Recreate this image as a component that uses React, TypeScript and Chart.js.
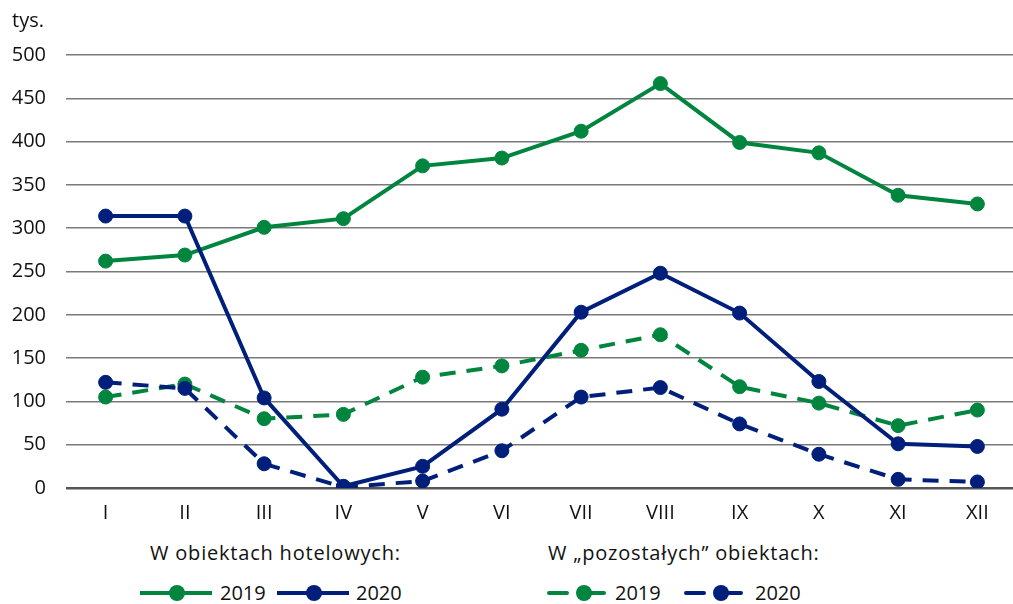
import React, { useEffect, useRef } from "react";
import { Chart, registerables } from "chart.js";

Chart.register(...registerables);

const months = ["I", "II", "III", "IV", "V", "VI", "VII", "VIII", "IX", "X", "XI", "XII"];
const hotel2019 = [262, 269, 301, 311, 372, 381, 412, 467, 399, 387, 338, 328];
const hotel2020 = [314, 314, 104, 2, 25, 91, 203, 248, 202, 123, 51, 48];
const other2019 = [105, 120, 80, 85, 128, 141, 159, 177, 117, 98, 72, 90];
const other2020 = [122, 115, 28, 1, 8, 43, 105, 116, 74, 39, 10, 7];
const yTicks = [0, 50, 100, 150, 200, 250, 300, 350, 400, 450, 500];

const GREEN = "#00853f";
const NAVY = "#001f7a";
const FONT = "'Open Sans', 'Noto Sans', sans-serif";
const TEXT = "#111111";

function Marker({ color, dashed }: { color: string; dashed: boolean }) {
  if (dashed) {
    return (
      <svg width="62" height="20" style={{ display: "block" }}>
        <line x1="2" y1="10" x2="20" y2="10" stroke={color} strokeWidth="4" strokeLinecap="round" />
        <line x1="37" y1="10" x2="57" y2="10" stroke={color} strokeWidth="4" strokeLinecap="round" />
        <circle cx="37" cy="10" r="8" fill={color} />
      </svg>
    );
  }
  return (
    <svg width="72" height="20" style={{ display: "block" }}>
      <line x1="0" y1="10" x2="72" y2="10" stroke={color} strokeWidth="4" />
      <circle cx="37" cy="10" r="8" fill={color} />
    </svg>
  );
}

export default function App() {
  const canvasRef = useRef<HTMLCanvasElement | null>(null);

  useEffect(() => {
    const canvas = canvasRef.current;
    if (!canvas) return;
    const mk = (data: number[], color: string, dashed: boolean) => ({
      data,
      borderColor: color,
      backgroundColor: color,
      borderWidth: 4,
      borderDash: dashed ? [16, 11] : [],
      pointRadius: 7,
      pointBorderWidth: 1,
      pointBorderColor: color,
      pointBackgroundColor: color,
      tension: 0,
      fill: false,
    });
    const chart = new Chart(canvas, {
      type: "line",
      data: {
        labels: months,
        datasets: [
          mk(hotel2020, NAVY, false),
          mk(hotel2019, GREEN, false),
          mk(other2020, NAVY, true),
          mk(other2019, GREEN, true),
        ],
      },
      options: {
        animation: false,
        responsive: false,
        devicePixelRatio: 1,
        layout: { padding: { top: 55, right: 0, bottom: 0, left: 0 } },
        plugins: { legend: { display: false }, tooltip: { enabled: false } },
        scales: {
          x: {
            offset: true,
            grid: { display: false, drawTicks: false },
            border: { display: false },
            ticks: { color: TEXT, font: { family: FONT, size: 20 }, padding: 13, maxRotation: 0 },
            afterFit: (s: any) => {
              s.height = 42;
            },
          },
          y: {
            min: 0,
            max: 500,
            afterBuildTicks: (s: any) => {
              s.ticks = yTicks.map((v) => ({ value: v }));
            },
            grid: {
              drawTicks: false,
              color: (c: any) => (c.tick && c.tick.value === 0 ? "#555555" : "#7a7a7a"),
              lineWidth: (c: any) => (c.tick && c.tick.value === 0 ? 2.5 : 1.5),
            },
            border: { display: false },
            ticks: { color: TEXT, font: { family: FONT, size: 20 }, padding: 20 },
            afterFit: (s: any) => {
              s.width = 66;
            },
          },
        },
      },
    } as any);
    return () => chart.destroy();
  }, []);

  const txt: React.CSSProperties = {
    position: "absolute",
    fontFamily: FONT,
    fontSize: 20,
    color: TEXT,
    whiteSpace: "nowrap",
    lineHeight: "22px",
  };

  return (
    <div
      style={{
        position: "fixed",
        left: 0,
        top: 0,
        width: 1013,
        height: 604,
        overflow: "hidden",
        background: "#ffffff",
      }}
    >
      <canvas
        ref={canvasRef}
        width={1025}
        height={530}
        style={{ position: "absolute", left: 0, top: 0, width: 1025, height: 530 }}
      />
      <div style={{ ...txt, left: 12, top: 9 }}>tys.</div>

      <div style={{ ...txt, left: 150, top: 542, letterSpacing: 0.8 }}>W obiektach hotelowych:</div>
      <div style={{ position: "absolute", left: 140, top: 583 }}>
        <Marker color={GREEN} dashed={false} />
      </div>
      <div style={{ ...txt, left: 220, top: 582 }}>2019</div>
      <div style={{ position: "absolute", left: 277, top: 583 }}>
        <Marker color={NAVY} dashed={false} />
      </div>
      <div style={{ ...txt, left: 356, top: 582 }}>2020</div>

      <div style={{ ...txt, left: 548, top: 542, letterSpacing: 0.8 }}>W „pozostałych” obiektach:</div>
      <div style={{ position: "absolute", left: 547, top: 583 }}>
        <Marker color={GREEN} dashed={true} />
      </div>
      <div style={{ ...txt, left: 615, top: 582 }}>2019</div>
      <div style={{ position: "absolute", left: 684, top: 583 }}>
        <Marker color={NAVY} dashed={true} />
      </div>
      <div style={{ ...txt, left: 755, top: 582 }}>2020</div>
    </div>
  );
}
